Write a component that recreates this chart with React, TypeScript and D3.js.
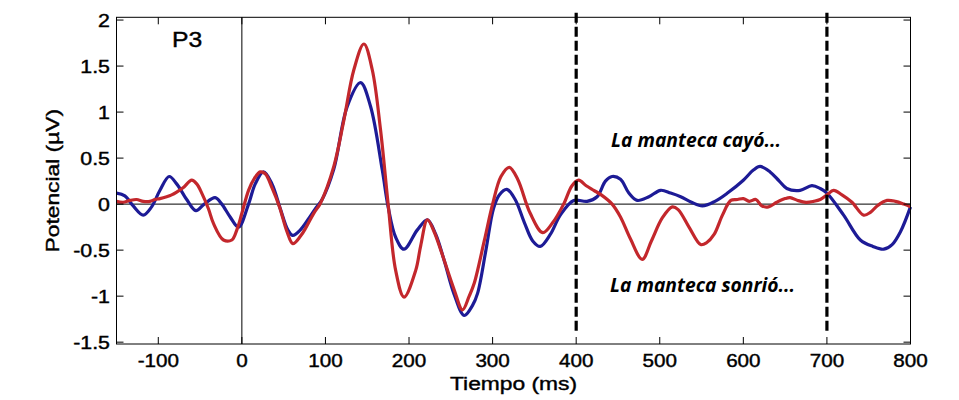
import React from "react";
import * as d3 from "d3";

const xTicks = [-100, 0, 100, 200, 300, 400, 500, 600, 700, 800];
const yTicks = [-1.5, -1, -0.5, 0, 0.5, 1, 1.5, 2];
const yTickLabels = ["-1.5", "-1", "-0.5", "0", "0.5", "1", "1.5", "2"];
const markerTimes = [400, 700];

// condition "La manteca cayó..." (blue)
const blueT = [-150,-140,-130,-118,-108,-98,-87,-78,-66,-55,-45,-32,-24,-14,-4,8,16,26,36,46,55,61,70,79,88,96,110,126,142,154,168,175,184,194,210,222,232,242,254,266,276,282,292,301,308,317,327,338,348,357,369,381,397,413,425,435,443,453,463,473,487,501,513,525,538,551,566,581,600,612,620,632,643,652,668,682,692,700,720,740,755,768,778,788,800];
const blueV = [0.12,0.09,-0.02,-0.12,-0.03,0.15,0.30,0.22,0.05,-0.07,0.0,0.07,0.0,-0.14,-0.25,0.0,0.22,0.35,0.22,-0.05,-0.28,-0.34,-0.28,-0.17,-0.05,0.05,0.38,1.06,1.32,1.06,0.37,-0.03,-0.36,-0.49,-0.28,-0.17,-0.33,-0.61,-0.98,-1.21,-1.1,-0.97,-0.5,-0.05,0.1,0.16,0.05,-0.2,-0.4,-0.46,-0.33,-0.12,0.04,0.03,0.08,0.25,0.30,0.27,0.12,0.04,0.08,0.15,0.12,0.08,0.02,-0.02,0.03,0.12,0.26,0.37,0.41,0.35,0.25,0.17,0.15,0.2,0.17,0.12,-0.12,-0.39,-0.46,-0.49,-0.44,-0.3,-0.03];

// condition "La manteca sonrió..." (red)
const redT = [-150,-142,-134,-126,-118,-110,-104,-98,-90,-84,-78,-70,-60,-54,-48,-40,-34,-22,-12,-6,0,8,15,22,28,36,45,54,61,70,77,86,94,110,122,134,146,156,166,175,184,194,208,214,222,230,238,254,264,272,278,290,300,310,320,330,345,360,372,385,395,403,412,421,430,443,453,465,479,490,503,515,522,535,549,556,565,575,585,593,600,607,615,622,630,640,650,656,665,675,684,692,700,708,718,730,744,752,760,772,782,792,800];
const redV = [0.03,0.02,0.04,0.05,0.03,0.03,0.05,0.06,0.08,0.10,0.13,0.18,0.26,0.22,0.12,-0.05,-0.21,-0.39,-0.39,-0.28,-0.1,0.15,0.28,0.35,0.33,0.18,-0.03,-0.3,-0.43,-0.35,-0.25,-0.1,0.01,0.41,0.91,1.46,1.74,1.46,0.80,0.0,-0.72,-1.01,-0.72,-0.45,-0.17,-0.3,-0.5,-0.93,-1.15,-1.0,-0.86,-0.4,0.0,0.3,0.40,0.27,-0.1,-0.31,-0.2,0.0,0.2,0.26,0.2,0.15,0.1,0.0,-0.14,-0.38,-0.6,-0.4,-0.15,-0.03,-0.06,-0.25,-0.44,-0.42,-0.33,-0.12,0.04,0.05,0.06,0.03,0.05,-0.02,-0.03,0.02,0.06,0.07,0.04,0.02,0.03,0.05,0.1,0.15,0.1,0.02,-0.12,-0.09,-0.02,0.04,0.03,0.0,-0.03];

const W = 959, H = 400;
const L = 116.5, R = 910.5, T = 17.3, B = 344;

export default function App() {
  const x = d3.scaleLinear().domain([-150, 800]).range([L, R]);
  const y = d3.scaleLinear().domain([-1.52, 2.03]).range([B, T]);
  const line = d3
    .line<[number, number]>()
    .x((d) => x(d[0]))
    .y((d) => y(d[1]))
    .curve(d3.curveCatmullRom.alpha(0.5));
  const blue = blueT.map((t, i) => [t, blueV[i]] as [number, number]);
  const red = redT.map((t, i) => [t, redV[i]] as [number, number]);
  const font = "'Liberation Sans', Arial, sans-serif";
  const tk = 7;
  const bold = { stroke: "#000", strokeWidth: 0.4 };
  return (
    <svg width={W} height={H} style={{ position: "absolute", left: 0, top: 0, background: "#fff" }}>
      <rect x={0} y={0} width={W} height={H} fill="#fff" />
      {/* zero lines */}
      <line x1={L} x2={R} y1={y(0)} y2={y(0)} stroke="#000" strokeWidth={1} />
      <line x1={x(0)} x2={x(0)} y1={T} y2={B} stroke="#000" strokeWidth={1} />
      {/* series */}
      <path d={line(blue) || ""} fill="none" stroke="#1d1b96" strokeWidth={3.2} strokeLinejoin="round" />
      <path d={line(red) || ""} fill="none" stroke="#c3272c" strokeWidth={3.2} strokeLinejoin="round" />
      {/* dashed markers */}
      {markerTimes.map((m) => (
        <line key={m} x1={x(m)} x2={x(m)} y1={y(2.08)} y2={y(-1.4)} stroke="#000" strokeWidth={3.2} strokeDasharray="10,4" />
      ))}
      {/* frame */}
      <rect x={L} y={T} width={R - L} height={B - T} fill="none" stroke="#000" strokeWidth={1} />
      {/* x ticks */}
      {xTicks.map((t) => (
        <g key={"x" + t}>
          <line x1={x(t)} x2={x(t)} y1={B} y2={B - tk} stroke="#000" />
          <line x1={x(t)} x2={x(t)} y1={T} y2={T + tk} stroke="#000" />
          <text transform={`translate(${x(t)},367) scale(1.18,1)`} textAnchor="middle" fontFamily={font} fontSize={17.5} fill="#000" {...bold}>
            {t}
          </text>
        </g>
      ))}
      {/* y ticks */}
      {yTicks.map((v, i) => (
        <g key={"y" + v}>
          <line x1={L} x2={L + tk} y1={y(v)} y2={y(v)} stroke="#000" />
          <line x1={R} x2={R - tk} y1={y(v)} y2={y(v)} stroke="#000" />
          <text transform={`translate(110,${y(v) + 6.5}) scale(1.22,1)`} textAnchor="end" fontFamily={font} fontSize={17.5} fill="#000" {...bold}>
            {yTickLabels[i]}
          </text>
        </g>
      ))}
      {/* axis labels */}
      <text transform={`translate(${(L + R) / 2},390) scale(1.2,1)`} textAnchor="middle" fontFamily={font} fontSize={19} fill="#000" {...bold}>
        Tiempo (ms)
      </text>
      <text transform={`translate(59,${(T + B) / 2}) rotate(-90) scale(1.2,1)`} textAnchor="middle" fontFamily={font} fontSize={19} fill="#000" {...bold}>
        Potencial (µV)
      </text>
      {/* panel label */}
      <text transform="translate(172,47) scale(1.15,1)" fontFamily={font} fontSize={21.5} fill="#000" {...bold}>
        P3
      </text>
      {/* annotations */}
      <text x={611} y={147} fontFamily="'Open Sans', sans-serif" fontWeight="bold" fontStyle="italic" fontSize={19.3} fill="#000">
        La manteca cayó...
      </text>
      <text x={610} y={292} fontFamily="'Open Sans', sans-serif" fontWeight="bold" fontStyle="italic" fontSize={19.3} fill="#000">
        La manteca sonrió...
      </text>
    </svg>
  );
}
